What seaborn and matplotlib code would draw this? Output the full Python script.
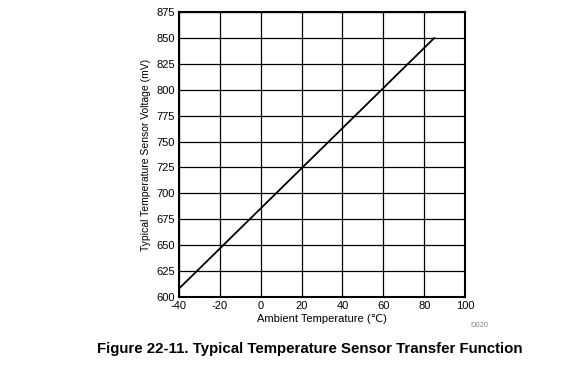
import matplotlib
matplotlib.use("Agg")
import matplotlib.pyplot as plt
import pandas as pd
import seaborn as sns

# transfer function end points
temps_c = [-40, 85]
voltage_mv = [608, 850]

x_ticks = [-40, -20, 0, 20, 40, 60, 80, 100]
y_ticks = [600, 625, 650, 675, 700, 725, 750, 775, 800, 825, 850, 875]

df = pd.DataFrame({"temp": temps_c, "mv": voltage_mv})

sns.set_style("white")
plt.rcParams["font.family"] = ["Liberation Sans", "DejaVu Sans"]
plt.rcParams["axes.unicode_minus"] = False
plt.rcParams["text.color"] = "black"
plt.rcParams["axes.labelcolor"] = "black"
plt.rcParams["xtick.color"] = "black"
plt.rcParams["ytick.color"] = "black"

fig = plt.figure(figsize=(5.61, 3.74), dpi=100)
ax = fig.add_axes([0.319, 0.206, 0.510, 0.762])

sns.lineplot(data=df, x="temp", y="mv", ax=ax, color="black", linewidth=1.3)

ax.set_xlim(-40, 100)
ax.set_ylim(600, 875)
ax.set_xticks(x_ticks)
ax.set_yticks(y_ticks)
ax.grid(True, color="black", linewidth=0.9)
for s in ax.spines.values():
    s.set_visible(True)
    s.set_color("black")
    s.set_linewidth(1.5)
ax.tick_params(axis="both", length=0, labelsize=8, pad=3)
ax.set_xlabel("Ambient Temperature (\u2103)", fontsize=8, labelpad=2)
ax.set_ylabel("Typical Temperature Sensor Voltage (mV)", fontsize=7.5, labelpad=4)

fig.text(0.838, 0.125, "D020", fontsize=5.5, color="#888888")
fig.text(0.553, 0.068, "Figure 22-11. Typical Temperature Sensor Transfer Function",
         fontsize=10.8, fontweight="bold", ha="center", va="center")

fig.savefig("out.png", dpi=100)
plt.close(fig)
